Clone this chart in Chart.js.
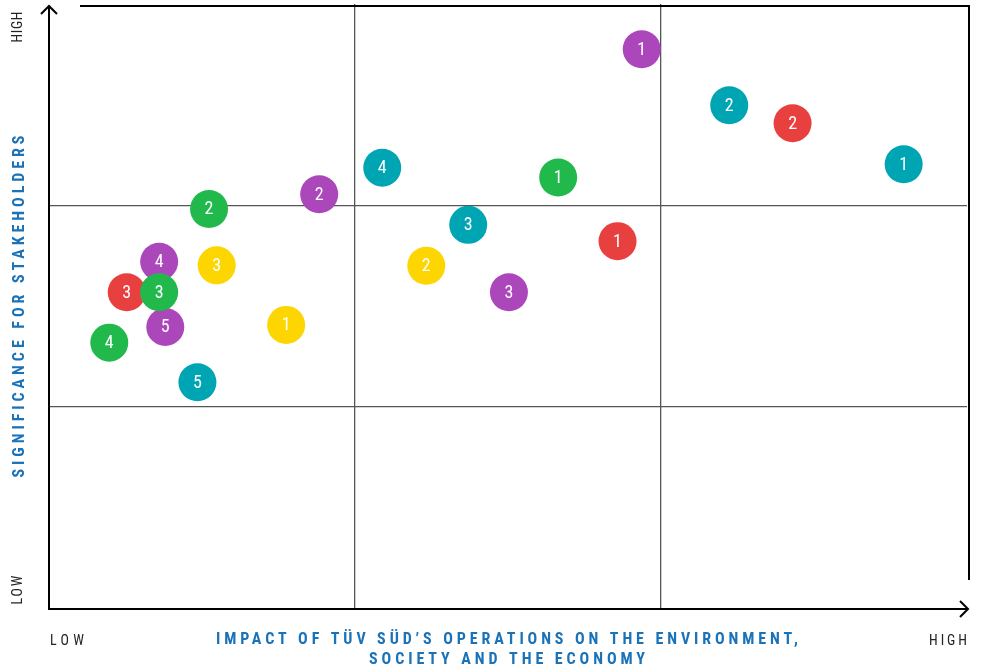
<!DOCTYPE html>
<html>
<head>
<meta charset="utf-8">
<script src="https://cdn.jsdelivr.net/npm/chart.js@4.4.1/dist/chart.umd.min.js"></script>
<style>
  body { margin: 0; background: #fff; }
  #wrap { width: 981px; height: 672px; position: relative; }
</style>
</head>
<body>
<div id="wrap"><canvas id="myChart"></canvas></div>
<script>
/* topic groups, numbered topics inside each group */
const groups = ['green', 'purple', 'teal', 'red', 'yellow'];
const groupColors = ['#22b94c', '#ab47bb', '#00a5b4', '#e8403f', '#fdd500'];

/* impact on environment / society / economy (x), significance for stakeholders (y), scale 0..3 */
const greenLabels = ['1', '2', '3', '4'];
const greenX = [1.664, 0.523, 0.360, 0.197];
const greenY = [2.138, 1.982, 1.568, 1.318];

const purpleLabels = ['1', '2', '3', '4', '5'];
const purpleX = [1.937, 0.883, 1.503, 0.360, 0.380];
const purpleY = [2.775, 2.055, 1.568, 1.720, 1.396];

const tealLabels = ['1', '2', '3', '4', '5'];
const tealX = [2.793, 2.223, 1.370, 1.089, 0.485];
const tealY = [2.204, 2.497, 1.903, 2.187, 1.121];

const redLabels = ['1', '2', '3'];
const redX = [1.858, 2.430, 0.254];
const redY = [1.822, 2.408, 1.568];

const yellowLabels = ['1', '2', '3'];
const yellowX = [0.775, 1.233, 0.548];
const yellowY = [1.406, 1.700, 1.702];

const xTitle = ['IMPACT OF TÜV SÜD’S OPERATIONS ON THE ENVIRONMENT,', 'SOCIETY AND THE ECONOMY'];
const yTitle = 'SIGNIFICANCE FOR STAKEHOLDERS';
const lowLabel = 'LOW';
const highLabel = 'HIGH';

const seriesLabels = [greenLabels, purpleLabels, tealLabels, redLabels, yellowLabels];
const seriesX = [greenX, purpleX, tealX, redX, yellowX];
const seriesY = [greenY, purpleY, tealY, redY, yellowY];

const condensed = '"Roboto Condensed", "Liberation Sans Narrow", "Arial Narrow", Roboto, sans-serif';
const titleBlue = '#1a72b8';

/* text with letter spacing stretched to a given width */
function spacedText(ctx, text, x, y, width, font) {
    ctx.font = font;
    ctx.letterSpacing = '0px';
    const plain = ctx.measureText(text).width;
    const gap = Math.max(0, (width - plain) / (text.length - 1));
    ctx.letterSpacing = gap + 'px';
    ctx.textAlign = 'left';
    ctx.fillText(text, x - width / 2, y);
    ctx.letterSpacing = '0px';
}

const framePlugin = {
    id: 'frame',
    beforeDatasetsDraw(chart) {
        const ctx = chart.ctx;
        const a = chart.chartArea;
        ctx.save();
        ctx.strokeStyle = '#000';
        ctx.lineWidth = 2;
        ctx.lineCap = 'butt';

        /* top and right frame */
        ctx.beginPath();
        ctx.moveTo(a.left + 31, a.top + 2);
        ctx.lineTo(a.right + 2, a.top + 2);
        ctx.lineTo(a.right + 2, a.bottom - 28);
        ctx.stroke();

        /* y axis with arrow */
        ctx.beginPath();
        ctx.moveTo(a.left, a.bottom + 1);
        ctx.lineTo(a.left, a.top + 2);
        ctx.stroke();
        ctx.beginPath();
        ctx.moveTo(a.left - 8, a.top + 10);
        ctx.lineTo(a.left, a.top + 2);
        ctx.lineTo(a.left + 8, a.top + 10);
        ctx.stroke();

        /* x axis with arrow */
        ctx.beginPath();
        ctx.moveTo(a.left - 1, a.bottom + 1);
        ctx.lineTo(a.right + 1, a.bottom + 1);
        ctx.stroke();
        ctx.beginPath();
        ctx.moveTo(a.right - 7, a.bottom - 7);
        ctx.lineTo(a.right + 1, a.bottom + 1);
        ctx.lineTo(a.right - 7, a.bottom + 9);
        ctx.stroke();
        ctx.restore();
    },
    afterDraw(chart) {
        const ctx = chart.ctx;
        const a = chart.chartArea;
        const cx = (a.left + a.right) / 2 + 1;
        const cy = (a.top + a.bottom) / 2;
        ctx.save();
        ctx.textBaseline = 'middle';

        /* axis titles */
        ctx.fillStyle = titleBlue;
        const bold = 'bold 16px ' + condensed;
        spacedText(ctx, xTitle[0], cx - 2, a.bottom + 32, 582, bold);
        spacedText(ctx, xTitle[1], cx - 2, a.bottom + 52, 276, bold);
        ctx.save();
        ctx.translate(20, cy + 0.5);
        ctx.rotate(-Math.PI / 2);
        spacedText(ctx, yTitle, 0, 0, 342, bold);
        ctx.restore();

        /* low / high markers */
        ctx.fillStyle = '#222';
        const reg = '14px ' + condensed;
        spacedText(ctx, lowLabel, 67, a.bottom + 33, 34, reg);
        spacedText(ctx, highLabel, 948, a.bottom + 33, 38, reg);
        ctx.save();
        ctx.translate(18, 27);
        ctx.rotate(-Math.PI / 2);
        spacedText(ctx, highLabel, 0, 0, 31, reg);
        ctx.restore();
        ctx.save();
        ctx.translate(18, 590);
        ctx.rotate(-Math.PI / 2);
        spacedText(ctx, lowLabel, 0, 0, 29, reg);
        ctx.restore();
        ctx.restore();
    },
    afterDatasetDraw(chart, args) {
        /* numbers inside the circles, drawn with their own dataset so overlaps stay right */
        const ctx = chart.ctx;
        const labels = seriesLabels[args.index];
        ctx.save();
        ctx.fillStyle = '#fff';
        ctx.font = '18px ' + condensed;
        ctx.textAlign = 'center';
        ctx.textBaseline = 'middle';
        args.meta.data.forEach((pt, i) => {
            ctx.fillText(labels[i], pt.x, pt.y + 1);
        });
        ctx.restore();
    }
};

const datasets = groups.map((g, gi) => ({
    label: g,
    data: seriesX[gi].map((x, i) => ({ x: x, y: seriesY[gi][i] })),
    backgroundColor: groupColors[gi],
    borderWidth: 0,
    pointRadius: 19,
    pointHoverRadius: 19,
    pointBorderWidth: 0
}));

const gridColor = (c) => (c.tick && (c.tick.value === 1 || c.tick.value === 2)) ? '#555' : 'rgba(0,0,0,0)';

new Chart(document.getElementById('myChart').getContext('2d'), {
    type: 'scatter',
    data: { datasets: datasets },
    options: {
        responsive: true,
        maintainAspectRatio: false,
        animation: false,
        events: [],
        layout: {
            autoPadding: false,
            padding: { left: 49, right: 14, top: 4, bottom: 64 }
        },
        plugins: {
            legend: { display: false },
            tooltip: { enabled: false }
        },
        scales: {
            x: {
                type: 'linear',
                min: 0,
                max: 3,
                ticks: { display: false, stepSize: 1 },
                border: { display: false },
                grid: { color: gridColor, lineWidth: 1.3, drawTicks: false },
                afterFit(scale) { scale.height = 0; }
            },
            y: {
                type: 'linear',
                min: 0,
                max: 3,
                ticks: { display: false, stepSize: 1 },
                border: { display: false },
                grid: { color: gridColor, lineWidth: 1.3, drawTicks: false },
                afterFit(scale) { scale.width = 0; }
            }
        }
    },
    plugins: [framePlugin]
});
</script>
</body>
</html>
